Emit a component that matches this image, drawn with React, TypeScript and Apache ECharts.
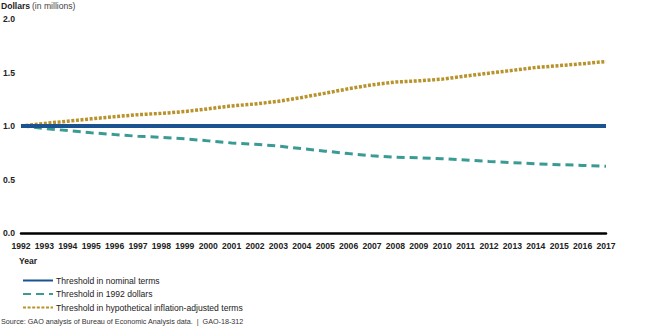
import React, { useEffect, useRef } from "react";
import * as echarts from "echarts";

const years = ["1992","1993","1994","1995","1996","1997","1998","1999","2000","2001","2002","2003","2004","2005","2006","2007","2008","2009","2010","2011","2012","2013","2014","2015","2016","2017"];
const nominal = [1,1,1,1,1,1,1,1,1,1,1,1,1,1,1,1,1,1,1,1,1,1,1,1,1,1];
const dollars1992 = [1.0,0.977,0.957,0.937,0.92,0.904,0.894,0.881,0.861,0.842,0.829,0.812,0.789,0.765,0.742,0.722,0.709,0.703,0.695,0.682,0.669,0.658,0.646,0.639,0.632,0.624];
const inflationAdj = [1.0,1.024,1.045,1.067,1.087,1.106,1.118,1.135,1.161,1.188,1.206,1.231,1.267,1.307,1.348,1.385,1.411,1.422,1.438,1.467,1.494,1.52,1.547,1.564,1.582,1.603];
const seriesNames = ["Threshold in nominal terms","Threshold in 1992 dollars","Threshold in hypothetical inflation-adjusted terms"];

const FONT = "Liberation Sans, Arial, sans-serif";

export default function App() {
  const ref = useRef<HTMLDivElement>(null);
  useEffect(() => {
    const chart = echarts.init(ref.current!, null, { renderer: "svg" });
    chart.setOption({
      animation: false,
      backgroundColor: "#ffffff",
      grid: { left: 19, right: 44, top: 19, bottom: 95, containLabel: false },
      xAxis: {
        type: "category",
        data: years,
        boundaryGap: false,
        axisLine: { show: true, lineStyle: { color: "#000", width: 2.5 } },
        axisTick: { show: false },
        axisLabel: { color: "#222", fontFamily: FONT, fontSize: 8.6, fontWeight: "bold", margin: 8, interval: 0 },
        splitLine: { show: false },
      },
      yAxis: {
        type: "value",
        min: 0,
        max: 2,
        interval: 0.5,
        axisLine: { show: false },
        axisTick: { show: false },
        splitLine: { show: false },
        axisLabel: {
          color: "#222", fontFamily: FONT, fontSize: 8.6, fontWeight: "bold",
          align: "left", margin: 18,
          formatter: (v: number) => v.toFixed(1),
        },
      },
      legend: {
        orient: "vertical",
        left: 17,
        top: 271,
        itemWidth: 30,
        itemHeight: 10,
        itemGap: 4.5,
        itemStyle: { opacity: 0 },
        textStyle: { fontFamily: FONT, fontSize: 8.6, color: "#222", padding: [0, 0, 0, -2] },
        data: seriesNames,
      },
      graphic: [
        { type: "text", left: 1, top: 1, style: { text: "Dollars", font: `bold 8.6px ${FONT}`, fill: "#222" } },
        { type: "text", left: 32, top: 1, style: { text: "(in millions)", font: `8.6px ${FONT}`, fill: "#444" } },
        { type: "text", left: 19, top: 256, style: { text: "Year", font: `bold 8.6px ${FONT}`, fill: "#222" } },
        { type: "text", left: 1, top: 318, style: { text: "Source: GAO analysis of Bureau of Economic Analysis data.  |  GAO-18-312", font: `7.2px ${FONT}`, fill: "#333" } },
      ],
      series: [
        {
          name: seriesNames[2], type: "line", data: inflationAdj, symbol: "none", z: 3,
          lineStyle: { color: "#b8922a", width: 3.5, type: [3, 1.6] },
          itemStyle: { color: "#b8922a" },
        },
        {
          name: seriesNames[1], type: "line", data: dollars1992, symbol: "none", z: 2,
          lineStyle: { color: "#3a9b94", width: 3, type: [8, 5] },
          itemStyle: { color: "#3a9b94" },
        },
        {
          name: seriesNames[0], type: "line", data: nominal, symbol: "none", z: 4,
          lineStyle: { color: "#1b5390", width: 4 },
          itemStyle: { color: "#1b5390" },
        },
      ],
    });
    return () => chart.dispose();
  }, []);
  return <div ref={ref} style={{ width: 650, height: 328, position: "absolute", left: 0, top: 0 }} />;
}
